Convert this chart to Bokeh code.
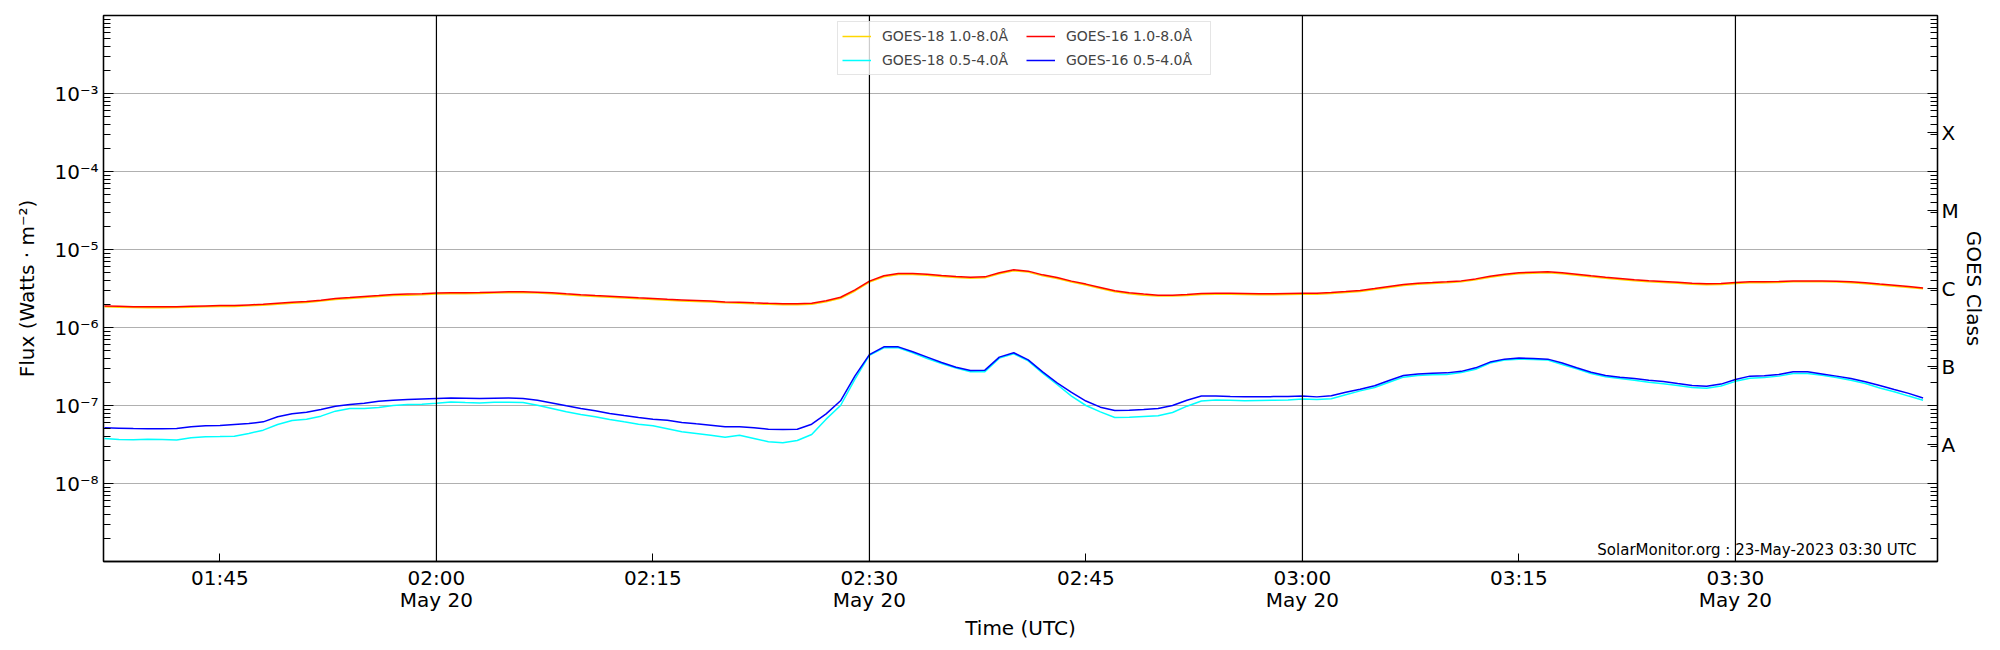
import numpy as np
import pandas as pd
from bokeh.plotting import figure
from bokeh.models import (FixedTicker, Span, Legend, LegendItem, Label,
                          LinearAxis, LinearScale, Range1d, ColumnDataSource)
from bokeh.embed import file_html
from bokeh.resources import INLINE

# ---------------- data (1-minute cadence from 01:37 UTC, 20 May 2023) ----------------
goes16_long = [x * 1e-6 for x in [
    1.89, 1.87, 1.85, 1.84, 1.84, 1.85, 1.87, 1.89, 1.91, 1.91, 1.95, 1.98, 2.04, 2.10, 2.15, 2.24, 2.35, 2.42, 2.50, 2.57, 2.65, 2.68,
    2.70, 2.77, 2.78, 2.79, 2.81, 2.84, 2.87, 2.87, 2.84, 2.78, 2.70, 2.63, 2.57, 2.52, 2.46, 2.40, 2.35, 2.30, 2.26, 2.22, 2.18, 2.12,
    2.11, 2.07, 2.04, 2.02, 2.02, 2.05, 2.20, 2.44, 3.03, 3.93, 4.60, 4.93, 4.93, 4.83, 4.64, 4.50, 4.42, 4.46, 5.02, 5.49, 5.28,
    4.73, 4.37, 3.93, 3.60, 3.26, 2.95, 2.78, 2.68, 2.60, 2.60, 2.65, 2.73, 2.75, 2.75, 2.73, 2.70, 2.70, 2.73, 2.75, 2.75, 2.81, 2.89,
    2.98, 3.16, 3.36, 3.56, 3.70, 3.77, 3.85, 3.96, 4.20, 4.55, 4.83, 5.02, 5.12, 5.17, 5.02, 4.83, 4.60, 4.42, 4.25, 4.09, 3.97,
    3.89, 3.81, 3.70, 3.63, 3.67, 3.77, 3.85, 3.85, 3.89, 3.96, 3.96, 3.96, 3.93, 3.85, 3.74, 3.60, 3.49, 3.36, 3.22]]

goes18_long = [x * 1e-6 for x in [
    1.84, 1.82, 1.80, 1.79, 1.79, 1.80, 1.82, 1.84, 1.86, 1.86, 1.90, 1.93, 1.98, 2.04, 2.09, 2.18, 2.28, 2.35, 2.43, 2.50, 2.57, 2.60,
    2.62, 2.69, 2.70, 2.71, 2.73, 2.76, 2.79, 2.79, 2.76, 2.70, 2.62, 2.55, 2.49, 2.45, 2.39, 2.33, 2.28, 2.23, 2.19, 2.15, 2.12, 2.07,
    2.05, 2.01, 1.98, 1.96, 1.96, 1.99, 2.14, 2.37, 2.94, 3.82, 4.47, 4.79, 4.79, 4.69, 4.51, 4.37, 4.29, 4.33, 4.88, 5.33, 5.13,
    4.59, 4.24, 3.82, 3.50, 3.17, 2.87, 2.70, 2.60, 2.53, 2.53, 2.57, 2.65, 2.67, 2.67, 2.65, 2.62, 2.62, 2.65, 2.67, 2.67, 2.73, 2.81,
    2.89, 3.07, 3.26, 3.46, 3.59, 3.66, 3.74, 3.85, 4.08, 4.42, 4.69, 4.88, 4.97, 5.02, 4.88, 4.69, 4.47, 4.29, 4.13, 3.97, 3.86,
    3.78, 3.70, 3.59, 3.53, 3.56, 3.66, 3.74, 3.74, 3.78, 3.85, 3.85, 3.85, 3.82, 3.74, 3.63, 3.50, 3.39, 3.26, 3.13]]

goes16_short = [x * 1e-8 for x in [
    5.17, 5.12, 5.07, 5.03, 5.03, 5.07, 5.33, 5.49, 5.54, 5.71, 5.88, 6.17, 7.16, 7.82, 8.21, 8.89, 9.80, 10.3, 10.7, 11.3, 11.7, 11.9,
    12.1, 12.3, 12.5, 12.4, 12.3, 12.4, 12.5, 12.3, 11.7, 10.8, 9.90, 9.15, 8.54, 7.90, 7.44, 7.02, 6.68, 6.49, 6.06, 5.82, 5.60, 5.33,
    5.33, 5.17, 4.97, 4.92, 4.97, 5.76, 7.82, 11.5, 24.0, 45.0, 56.5, 56.5, 48.8, 41.7, 35.6, 31.0, 28.1, 28.4, 41.7, 47.4, 38.5,
    27.0, 19.5, 14.7, 11.4, 9.52, 8.62, 8.71, 8.89, 9.15, 10.0, 11.7, 13.2, 13.2, 13.0, 12.9, 12.9, 13.0, 13.0, 13.2, 12.9, 13.3, 14.8,
    16.2, 17.9, 20.9, 24.2, 25.4, 25.9, 26.2, 27.4, 30.4, 36.0, 39.3, 40.5, 40.0, 39.3, 35.0, 30.4, 26.7, 24.2, 23.1, 22.2, 21.1,
    20.3, 19.1, 18.0, 17.7, 18.8, 21.5, 23.8, 24.0, 24.9, 27.0, 27.0, 25.4, 23.8, 22.2, 20.1, 18.0, 16.0, 14.3, 12.5]]

goes18_short = [x * 1e-8 for x in [
    3.78, 3.67, 3.63, 3.70, 3.67, 3.60, 3.85, 3.97, 4.00, 4.04, 4.37, 4.83, 5.71, 6.42, 6.68, 7.30, 8.46, 9.15, 9.15, 9.43, 10.0, 10.3,
    10.4, 10.7, 11.1, 10.9, 10.8, 11.0, 11.0, 10.9, 10.1, 9.15, 8.29, 7.67, 7.16, 6.62, 6.17, 5.76, 5.49, 5.03, 4.60, 4.37, 4.16, 3.92,
    4.16, 3.78, 3.44, 3.34, 3.56, 4.24, 6.68, 10.0, 21.8, 44.1, 54.9, 54.9, 47.4, 40.0, 34.6, 30.2, 27.1, 27.1, 40.5, 46.0, 37.4,
    26.0, 18.6, 13.2, 10.0, 8.29, 7.02, 7.09, 7.23, 7.37, 8.13, 9.80, 11.4, 11.8, 11.7, 11.5, 11.6, 11.7, 11.8, 12.1, 11.9, 12.2, 13.7,
    15.4, 17.0, 19.9, 23.1, 24.2, 24.7, 25.0, 26.5, 29.2, 35.0, 38.2, 39.3, 39.0, 38.2, 33.6, 29.5, 25.7, 23.3, 22.2, 21.1, 19.9,
    19.0, 18.0, 17.0, 16.6, 17.8, 20.4, 22.4, 22.9, 23.8, 25.7, 25.7, 24.5, 22.9, 21.1, 19.1, 16.8, 15.0, 13.2, 11.7]]

series_labels = ["GOES-18 1.0-8.0Å", "GOES-18 0.5-4.0Å", "GOES-16 1.0-8.0Å", "GOES-16 0.5-4.0Å"]
series_colors = ["#FFD700", "#00FFFF", "#FF0000", "#0000FF"]

x_tick_times = ["01:45", "02:00", "02:15", "02:30", "02:45", "03:00", "03:15", "03:30"]
x_tick_labels = ["01:45", "02:00\nMay 20", "02:15", "02:30\nMay 20", "02:45", "03:00\nMay 20", "03:15", "03:30\nMay 20"]
vline_times = ["02:00", "02:30", "03:00", "03:30"]

y_decades = [-8, -7, -6, -5, -4, -3]
y_tick_labels = ["10⁻⁸", "10⁻⁷", "10⁻⁶", "10⁻⁵", "10⁻⁴", "10⁻³"]

class_positions = [-7.5, -6.5, -5.5, -4.5, -3.5]
class_labels = ["A", "B", "C", "M", "X"]

watermark = "SolarMonitor.org : 23-May-2023 03:30 UTC"
day = "2023-05-20"

# ---------------- figure ----------------
times = pd.date_range(f"{day} 01:37", periods=len(goes16_long), freq="1min")
src = ColumnDataSource(dict(t=times, g18l=goes18_long, g18s=goes18_short,
                            g16l=goes16_long, g16s=goes16_short))

def ms(hhmm):
    return pd.Timestamp(f"{day} {hhmm}").value / 1e6

FONT = "DejaVu Sans"

p = figure(width=1998, height=645, x_axis_type="datetime", y_axis_type="log",
           x_range=Range1d(ms("01:36:56"), ms("03:44:00")),
           y_range=Range1d(1e-9, 1e-2),
           output_backend="svg", toolbar_location=None,
           min_border_left=103, min_border_right=61, min_border_top=15, min_border_bottom=84)

p.outline_line_color = "black"
p.outline_line_width = 1.3
p.background_fill_color = "white"
p.border_fill_color = "white"

r_g18l = p.line("t", "g18l", source=src, color=series_colors[0], line_width=1.5)
r_g16l = p.line("t", "g16l", source=src, color=series_colors[2], line_width=1.5)
r_g18s = p.line("t", "g18s", source=src, color=series_colors[1], line_width=1.5)
r_g16s = p.line("t", "g16s", source=src, color=series_colors[3], line_width=1.5)

for vt in vline_times:
    p.add_layout(Span(location=ms(vt), dimension="height", line_color="black", line_width=1.2))

# x axis
xt = [ms(t) for t in x_tick_times]
p.xaxis.ticker = FixedTicker(ticks=xt, minor_ticks=[])
p.xaxis.major_label_overrides = dict(zip(xt, x_tick_labels))
p.xaxis.axis_label = "Time (UTC)"
p.xgrid.visible = False

# left y axis
yt = [10.0 ** d for d in y_decades]
y_minor = [k * 10.0 ** n for n in range(-9, -2) for k in range(2, 10)]
p.yaxis.ticker = FixedTicker(ticks=yt, minor_ticks=y_minor)
p.yaxis.major_label_overrides = dict(zip(yt, y_tick_labels))
p.yaxis.axis_label = "Flux (Watts · m⁻²)"
p.ygrid.ticker = FixedTicker(ticks=yt, minor_ticks=[])
p.ygrid.grid_line_color = "#b0b0b0"
p.ygrid.grid_line_width = 1.1

# right class axis (log10 space, linear scale)
p.extra_y_ranges = {"cls": Range1d(-9, -2)}
p.extra_y_scales = {"cls": LinearScale()}
cls_axis = LinearAxis(y_range_name="cls")
dec_all = [float(d) for d in range(-9, -1)]
cls_minor = [float(np.log10(k) + n) for n in range(-9, -2) for k in range(2, 10)]
cls_axis.ticker = FixedTicker(ticks=sorted(dec_all + class_positions), minor_ticks=cls_minor)
ov = {d: "" for d in dec_all}
ov.update(dict(zip(class_positions, class_labels)))
cls_axis.major_label_overrides = ov
cls_axis.axis_label = "GOES Class"
p.add_layout(cls_axis, "right")

for ax in [p.xaxis[0], p.yaxis[0], cls_axis]:
    ax.axis_line_color = "black"
    ax.axis_line_width = 1.3
    ax.major_tick_out = 0
    ax.minor_tick_out = 0
    ax.major_tick_line_color = "black"
    ax.minor_tick_line_color = "black"
    ax.major_label_text_font = FONT
    ax.major_label_text_font_size = "20px"
    ax.major_label_text_color = "black"
    ax.axis_label_text_font = FONT
    ax.axis_label_text_font_size = "20px"
    ax.axis_label_text_font_style = "normal"
    ax.axis_label_text_color = "black"

p.xaxis.major_tick_in = 8
p.xaxis.major_label_standoff = 4
p.xaxis.major_label_text_line_height = 0.95
p.xaxis.axis_label_standoff = 1
p.yaxis.major_tick_in = 10
p.yaxis.minor_tick_in = 7
p.yaxis.major_label_standoff = 5
p.yaxis.axis_label_standoff = 12
cls_axis.major_tick_in = 10
cls_axis.minor_tick_in = 7
cls_axis.major_label_standoff = 4
cls_axis.axis_label_standoff = 0

# legend
items = [LegendItem(label=series_labels[0], renderers=[r_g18l]),
         LegendItem(label=series_labels[1], renderers=[r_g18s]),
         LegendItem(label=series_labels[2], renderers=[r_g16l]),
         LegendItem(label=series_labels[3], renderers=[r_g16s])]
legend = Legend(items=items, location=(734, 486), nrows=2, orientation="vertical",
                label_text_font=FONT, label_text_font_size="14px",
                glyph_width=29, glyph_height=20, label_height=20, label_standoff=11,
                label_width=140, padding=4, spacing=4, margin=0,
                border_line_color="#cccccc", border_line_width=1,
                background_fill_color="white", background_fill_alpha=0.8)
p.add_layout(legend)

p.add_layout(Label(x=1813, y=12, x_units="screen", y_units="screen", text=watermark,
                   text_align="right", text_baseline="alphabetic",
                   text_font=FONT, text_font_size="15px", text_color="black"))

open("out.html", "w").write(file_html(p, INLINE))
